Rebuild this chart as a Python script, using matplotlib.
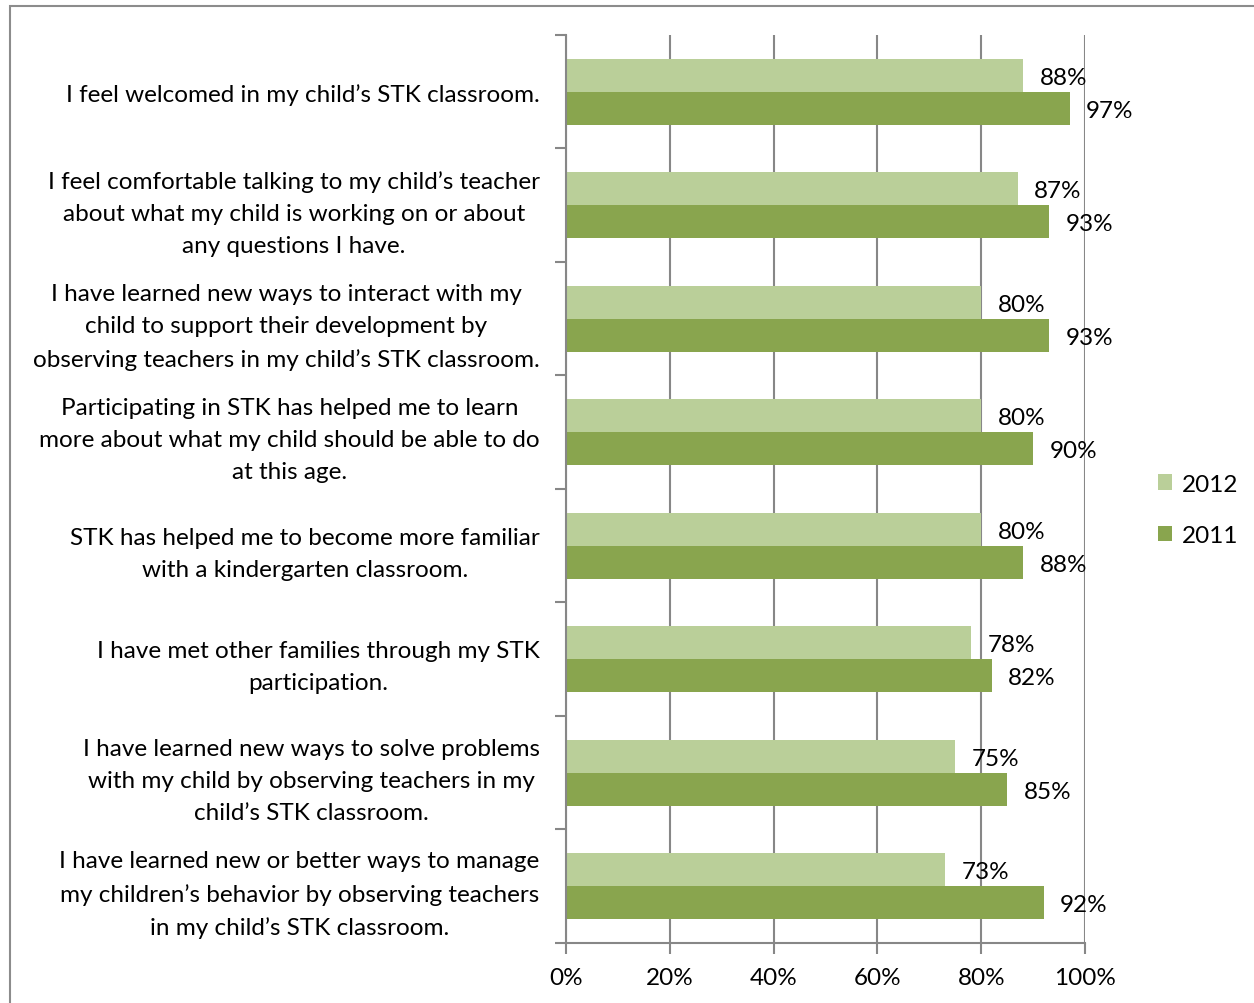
import numpy as np
import matplotlib.pyplot as plt
from matplotlib.patches import Rectangle

plt.rcParams['font.family'] = ['Lato', 'DejaVu Sans']

statements = [
    "I feel welcomed in my child\u2019s STK classroom.",
    "I feel comfortable talking to my child\u2019s teacher\nabout what my child is working on or about\nany questions I have.",
    "I have learned new ways to interact with my\nchild to support their development by\nobserving teachers in my child\u2019s STK classroom.",
    "Participating in STK has helped me to learn\nmore about what my child should be able to do\nat this age.",
    "STK has helped me to become more familiar\nwith a kindergarten classroom.",
    "I have met other families through my STK\nparticipation.",
    "I have learned new ways to solve problems\nwith my child by observing teachers in my\nchild\u2019s STK classroom.",
    "I have learned new or better ways to manage\nmy children\u2019s behavior by observing teachers\nin my child\u2019s STK classroom.",
]
pct_2012 = [88, 87, 80, 80, 80, 78, 75, 73]
pct_2011 = [97, 93, 93, 90, 88, 82, 85, 92]

c2012 = '#bacf99'
c2011 = '#89a54e'
axis_grey = '#878787'
fs = 17.5

fig = plt.figure(figsize=(12.54, 10.04), dpi=100)
ax = fig.add_axes([0.4514, 0.0598, 0.4139, 0.9044])

# outer chart frame (runs off the right and bottom edges)
top = 1 - 7 / 1004
fig.patches.append(Rectangle((10 / 1254, -0.05), 1.2, top + 0.05,
                             transform=fig.transFigure, fill=False,
                             edgecolor='#8c8c8c', linewidth=1.5, zorder=0))

n = len(statements)
y = np.arange(n)
h = 0.29
b1 = ax.barh(y - h / 2, pct_2012, height=h, color=c2012, zorder=2, label='2012')
b2 = ax.barh(y + h / 2, pct_2011, height=h, color=c2011, zorder=2, label='2011')

for bars, vals in ((b1, pct_2012), (b2, pct_2011)):
    for bar, v in zip(bars, vals):
        ax.annotate(f'{v}%', (bar.get_width(), bar.get_y() + bar.get_height() / 2),
                    xytext=(12, 0), textcoords='offset points',
                    ha='left', va='center_baseline', fontsize=fs, color='black',
                    zorder=4)

ax.set_xlim(0, 100)
ax.set_ylim(n - 0.5, -0.5)
ax.set_xticks(np.arange(0, 101, 20))
ax.set_xticklabels([f'{t}%' for t in range(0, 101, 20)], fontsize=fs)
ax.xaxis.grid(True, color=axis_grey, linewidth=1.5, zorder=0)
ax.set_axisbelow(True)

# category boundaries carry the ticks, labels sit at the centres
ax.set_yticks(np.arange(-0.5, n, 1))
ax.set_yticklabels([])
ax.set_yticks(y, minor=True)
ax.set_yticklabels(statements, minor=True, fontsize=fs, multialignment='center',
                   linespacing=1.65)
ax.tick_params(axis='y', which='minor', length=0, pad=19)
ax.tick_params(axis='y', which='major', length=8, width=1.5, color=axis_grey)
ax.tick_params(axis='x', length=8, width=1.5, color=axis_grey, pad=9)

for side in ('top', 'right'):
    ax.spines[side].set_visible(False)
for side in ('left', 'bottom'):
    ax.spines[side].set_color(axis_grey)
    ax.spines[side].set_linewidth(1.5)

ax.legend(loc='center left', bbox_to_anchor=(1.098, 0.477), frameon=False,
          fontsize=fs, handlelength=0.6, handleheight=0.6, handletextpad=0.4,
          labelspacing=1.25)

fig.savefig('out.png', dpi=100)
